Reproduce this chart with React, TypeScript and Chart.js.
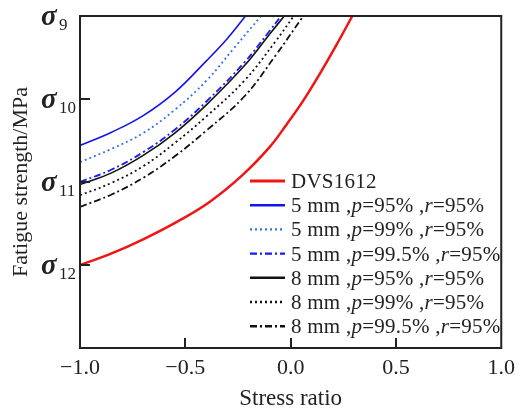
import React, { useEffect, useRef } from 'react';
import { Chart, registerables } from 'chart.js';

Chart.register(...registerables);

// ---- data ----
const xTickValues = [-1, -0.5, 0, 0.5, 1];
const yTickValues = [9, 10, 11, 12];
const yTickSubs = ['9', '10', '11', '12'];

const dvsX = [-1, -0.85, -0.7, -0.54, -0.39, -0.23, -0.1, -0.02, 0.06, 0.14, 0.215, 0.293];
const dvsY = [12.0, 11.86, 11.69, 11.48, 11.25, 10.92, 10.58, 10.31, 10.02, 9.69, 9.36, 9.0];

const mm5p95X = [-1, -0.85, -0.7, -0.55, -0.4, -0.3, -0.214];
const mm5p95Y = [10.56, 10.4, 10.2, 9.92, 9.54, 9.27, 9.0];

const mm5p99X = [-1, -0.85, -0.7, -0.55, -0.4, -0.27, -0.14];
const mm5p99Y = [10.76, 10.6, 10.41, 10.13, 9.78, 9.39, 9.0];

const mm5p995X = [-1, -0.85, -0.7, -0.55, -0.4, -0.22, -0.1, -0.045];
const mm5p995Y = [11.0, 10.85, 10.64, 10.37, 10.03, 9.56, 9.18, 9.0];

const mm8p95X = [-1, -0.85, -0.7, -0.55, -0.4, -0.22, -0.1, -0.03];
const mm8p95Y = [11.03, 10.89, 10.68, 10.41, 10.07, 9.6, 9.22, 9.0];

const mm8p99X = [-1, -0.85, -0.7, -0.55, -0.4, -0.22, -0.07, 0.015];
const mm8p99Y = [11.16, 11.01, 10.81, 10.53, 10.21, 9.78, 9.3, 9.0];

const mm8p995X = [-1, -0.85, -0.7, -0.55, -0.4, -0.22, -0.07, 0.06];
const mm8p995Y = [11.3, 11.15, 10.95, 10.69, 10.38, 9.97, 9.47, 9.0];

// legend label pieces: [text, italic]
const legendLabels: [string, boolean][][] = [
  [['DVS1612', false]],
  [['5 mm ,', false], ['p', true], ['=95% ,', false], ['r', true], ['=95%', false]],
  [['5 mm ,', false], ['p', true], ['=99% ,', false], ['r', true], ['=95%', false]],
  [['5 mm ,', false], ['p', true], ['=99.5% ,', false], ['r', true], ['=95%', false]],
  [['8 mm ,', false], ['p', true], ['=95% ,', false], ['r', true], ['=95%', false]],
  [['8 mm ,', false], ['p', true], ['=99% ,', false], ['r', true], ['=95%', false]],
  [['8 mm ,', false], ['p', true], ['=99.5% ,', false], ['r', true], ['=95%', false]],
];

const SERIF = '"Liberation Serif", "Times New Roman", serif';
const INK = '#222';

const styles = [
  { color: '#f01414', width: 2.5, dash: [] as number[] },
  { color: '#1414f0', width: 1.6, dash: [] as number[] },
  { color: '#2f74f0', width: 1.8, dash: [2, 3] },
  { color: '#1a1af5', width: 1.8, dash: [7, 3, 2, 3] },
  { color: '#111111', width: 1.6, dash: [] as number[] },
  { color: '#111111', width: 1.8, dash: [2, 3] },
  { color: '#111111', width: 1.8, dash: [7, 3, 2, 3] },
];

const seriesX = [dvsX, mm5p95X, mm5p99X, mm5p995X, mm8p95X, mm8p99X, mm8p995X];
const seriesY = [dvsY, mm5p95Y, mm5p99Y, mm5p995Y, mm8p95Y, mm8p99Y, mm8p995Y];

const fmtX = (v: number) => (v < 0 ? '\u2212' : '') + Math.abs(v).toFixed(1);

const decorPlugin = {
  id: 'decor',
  afterDraw(chart: any) {
    const ctx = chart.ctx as CanvasRenderingContext2D;
    const { left, right, top, bottom } = chart.chartArea;
    const xs = chart.scales.x;
    const ys = chart.scales.y;
    ctx.save();
    // frame
    ctx.strokeStyle = INK;
    ctx.lineWidth = 2;
    ctx.setLineDash([]);
    ctx.strokeRect(left, top, right - left, bottom - top);
    // inward ticks
    ctx.beginPath();
    xTickValues.forEach((v) => {
      if (v === -1 || v === 1) return;
      const px = Math.round(xs.getPixelForValue(v));
      ctx.moveTo(px, bottom);
      ctx.lineTo(px, bottom - 10);
    });
    yTickValues.forEach((v) => {
      if (v === 9) return;
      const py = Math.round(ys.getPixelForValue(v));
      ctx.moveTo(left, py);
      ctx.lineTo(left + 10, py);
    });
    ctx.stroke();
    // y labels sigma_n
    ctx.fillStyle = INK;
    ctx.textAlign = 'left';
    ctx.textBaseline = 'alphabetic';
    yTickValues.forEach((v, i) => {
      const py = ys.getPixelForValue(v);
      ctx.font = `bold italic 29px ${SERIF}`;
      ctx.fillText('\u03c3', 41, py + 9);
      ctx.font = `17px ${SERIF}`;
      ctx.fillText(yTickSubs[i], 59, py + 14);
    });
    // legend
    const lx0 = 250;
    const lx1 = 285;
    const tx = 291;
    const y0 = 181;
    const step = 24.2;
    (ctx as any).letterSpacing = '0.25px';
    legendLabels.forEach((parts, i) => {
      const y = y0 + i * step;
      const st = styles[i];
      ctx.strokeStyle = st.color;
      ctx.lineWidth = i === 0 ? 3 : 2.4;
      ctx.setLineDash(st.dash);
      ctx.beginPath();
      ctx.moveTo(lx0, y);
      ctx.lineTo(lx1, y);
      ctx.stroke();
      ctx.setLineDash([]);
      let x = tx;
      ctx.fillStyle = INK;
      parts.forEach(([t, it]) => {
        ctx.font = `${it ? 'italic ' : ''}21px ${SERIF}`;
        ctx.fillText(t, x, y + 7);
        x += ctx.measureText(t).width;
      });
    });
    (ctx as any).letterSpacing = '0px';
    ctx.restore();
  },
};

export default function App() {
  const ref = useRef<HTMLCanvasElement | null>(null);
  useEffect(() => {
    document.body.style.margin = '0';
    const canvas = ref.current;
    if (!canvas) return;
    const datasets = seriesX.map((xs, i) => ({
      label: legendLabels[i].map((p) => p[0]).join(''),
      data: xs.map((x, j) => ({ x, y: seriesY[i][j] })),
      borderColor: styles[i].color,
      backgroundColor: styles[i].color,
      borderWidth: styles[i].width,
      borderDash: styles[i].dash,
      pointRadius: 0,
      fill: false,
      tension: 0.4,
    }));
    const chart = new Chart(canvas, {
      type: 'line',
      data: { datasets },
      options: {
        responsive: false,
        animation: false,
        devicePixelRatio: 1,
        layout: { padding: { top: 16, right: 14, left: 0, bottom: 0 } },
        plugins: { legend: { display: false }, tooltip: { enabled: false } },
        scales: {
          x: {
            type: 'linear',
            min: -1,
            max: 1,
            ticks: {
              stepSize: 0.5,
              autoSkip: false,
              maxRotation: 0,
              padding: 7,
              color: INK,
              font: { family: SERIF, size: 22 },
              callback: (v: any) => fmtX(Number(v)),
            },
            grid: { display: false, drawTicks: false },
            border: { display: false },
            title: {
              display: true,
              text: 'Stress ratio',
              color: INK,
              font: { family: SERIF, size: 23, lineHeight: 1 },
              padding: { top: 0, bottom: 0 },
            },
            afterFit: (s: any) => {
              s.height = 62;
            },
          },
          y: {
            type: 'linear',
            min: 9,
            max: 13,
            reverse: true,
            ticks: { display: false, stepSize: 1 },
            grid: { display: false, drawTicks: false },
            border: { display: false },
            title: {
              display: true,
              text: 'Fatigue strength/MPa',
              color: INK,
              font: { family: SERIF, size: 22, lineHeight: 1 },
              padding: { top: 10, bottom: 0 },
            },
            afterFit: (s: any) => {
              s.width = 80;
            },
          },
        },
      },
      plugins: [decorPlugin],
    });
    return () => chart.destroy();
  }, []);
  return (
    <div style={{ width: 522, height: 410, background: '#fff' }}>
      <canvas ref={ref} width={522} height={410} style={{ display: 'block' }} />
    </div>
  );
}
